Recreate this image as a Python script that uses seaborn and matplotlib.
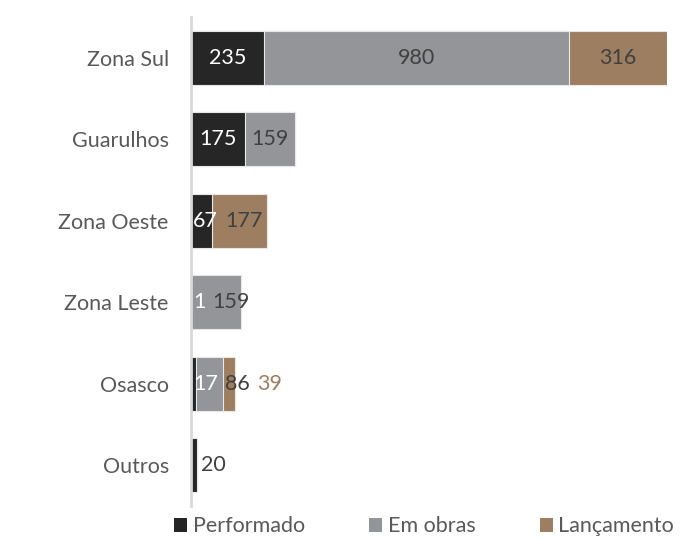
import numpy as np
import pandas as pd
import seaborn as sns
import matplotlib.pyplot as plt
from matplotlib.patches import Patch

regioes = ["Zona Sul", "Guarulhos", "Zona Oeste", "Zona Leste", "Osasco", "Outros"]
performado = [235, 175, 67, 1, 17, 20]
em_obras = [980, 159, 0, 159, 86, 0]
lancamento = [316, 0, 177, 0, 39, 0]

series = ["Performado", "Em obras", "Lançamento"]
cores = ["#262626", "#939598", "#9e7e60"]
cor_texto = "#595959"
fs = 15.5

sns.set_theme(style="white")
plt.rcParams["font.family"] = ["Lato", "DejaVu Sans"]

df = pd.DataFrame({"regiao": regioes, "Performado": performado,
                   "Em obras": em_obras, "Lançamento": lancamento})
df["c1"] = df["Performado"]
df["c2"] = df["c1"] + df["Em obras"]
df["c3"] = df["c2"] + df["Lançamento"]

fig = plt.figure(figsize=(6.86, 5.41), dpi=100)
ax = fig.add_axes([191 / 686, 1 - 506 / 541, (667 - 191) / 686, (506 - 17) / 541])

# stacked look: draw cumulative totals from the back
for col, cor in zip(["c3", "c2", "c1"], cores[::-1]):
    sns.barplot(data=df, y="regiao", x=col, color=cor, orient="h", width=0.66,
                edgecolor="#e8e8e8", linewidth=0.8, saturation=1, ax=ax)

ax.set_xlim(0, df["c3"].max())
ax.set_ylim(5.5, -0.5)
ax.set_xlabel("")
ax.set_ylabel("")
ax.set_xticks([])
for s in ["top", "right", "bottom"]:
    ax.spines[s].set_visible(False)
ax.spines["left"].set_color("#d9d9d9")
ax.spines["left"].set_linewidth(2)
ax.tick_params(axis="y", length=0, pad=16, labelsize=fs, labelcolor=cor_texto)

# data labels, pushed right when they collide
fig.canvas.draw()
r = fig.canvas.get_renderer()
inv = ax.transData.inverted()
for i in range(len(regioes)):
    vals = [performado[i], em_obras[i], lancamento[i]]
    starts = np.concatenate([[0], np.cumsum(vals)[:-1]])
    total = sum(vals)
    nz = [k for k in range(3) if vals[k] > 0]
    prev_right = None
    x0_px = ax.transData.transform((0, i))[0]
    tot_px = ax.transData.transform((total, i))[0]
    for k in nz:
        t = ax.text(0, i, str(vals[k]), fontsize=fs, va="center", ha="left")
        w = t.get_window_extent(r).width
        l_px = ax.transData.transform((starts[k], i))[0]
        r_px = ax.transData.transform((starts[k] + vals[k], i))[0]
        left = (l_px + r_px) / 2 - w / 2
        if k == nz[-1] and w > r_px - l_px:
            left = r_px + 4
        if prev_right is None:
            left = max(left, x0_px + 2)
        else:
            left = max(left, prev_right + 7)
        prev_right = left + w
        fora = left >= tot_px - 1
        if k == 0:
            cor = "#404040" if fora else "white"
        elif k == 1:
            cor = "#404040"
        else:
            cor = cores[2] if fora else "#404040"
        t.set_color(cor)
        t.set_x(inv.transform((left, 0))[0])

handles = [Patch(facecolor=c, edgecolor="none") for c in cores]
leg = ax.legend(handles, series, loc="upper center", bbox_to_anchor=(0.49, 0.005),
                ncol=3, frameon=False, fontsize=fs, handlelength=0.6,
                handleheight=0.6, handletextpad=0.25, columnspacing=3.0,
                borderaxespad=0.2)
for t in leg.get_texts():
    t.set_color(cor_texto)

fig.savefig("out.png", dpi=100)
